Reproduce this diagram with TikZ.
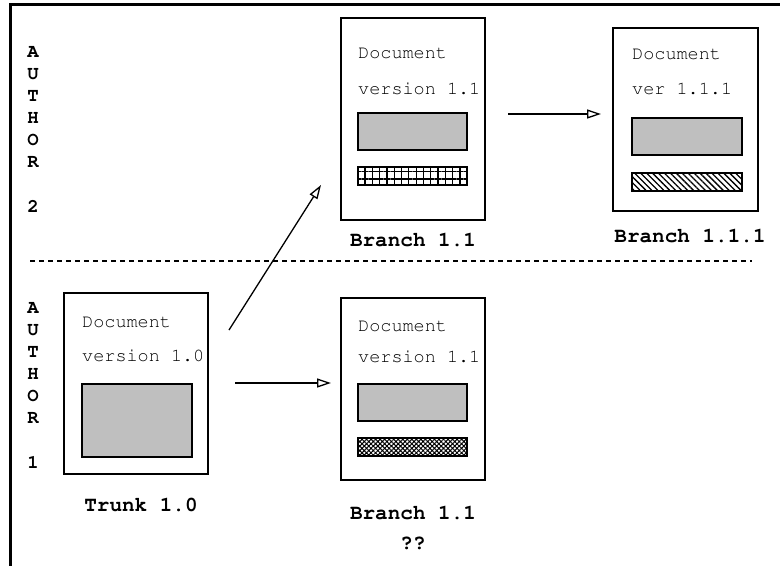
\documentclass[tikz,border=0pt]{standalone}
\usepackage[T1]{fontenc}
\usepackage{courier}
\usetikzlibrary{arrows.meta,patterns,patterns.meta}
\begin{document}
\begin{tikzpicture}[x=1pt,y=-1pt,
 doc/.style={draw, line width=1.3pt, inner sep=0, fill=white},
 txt/.style={anchor=base west, font=\ttfamily\fontsize{18.5}{22}\selectfont, inner sep=0},
 lbl/.style={font=\ttfamily\bfseries\fontsize{21}{24}\selectfont, inner sep=0},
 auth/.style={font=\ttfamily\bfseries\fontsize{19}{22}\selectfont, inner sep=0},
 graybox/.style={draw, line width=1.5pt, fill=black!25, inner sep=0},
 patbox/.style={draw, line width=1.5pt, inner sep=0},
 arr/.style={-{Triangle[open, length=14pt, width=9pt, line width=1.3pt]}, line width=1.3pt},
]
\useasboundingbox (0,0) rectangle (780,566);
% frame
\draw[line width=3pt] (780,4) -| (10,566);
% separator
\draw[dash pattern=on 5pt off 4pt, line width=1.3pt] (30,261) -- (752,261);
% author labels
\foreach \c/\i in {A/0,U/1,T/2,H/3,O/4,R/5,2/7}
  \node[auth] (a2-\i) at (33,52+22.1*\i) {\c};
\foreach \c/\i in {A/0,U/1,T/2,H/3,O/4,R/5,1/7}
  \node[auth] (a1-\i) at (33,308+22.1*\i) {\c};

% Trunk 1.0
\node[doc, minimum width=144, minimum height=181] (trunk) at (136,383.5) {};
\node[txt] (t1) at (82,327) {Document};
\node[txt] (t2) at (82,361) {version 1.0};
\node[graybox, minimum width=110, minimum height=73] (tg) at (137,420.5) {};
\node[lbl] (tl) at (141,505) {Trunk 1.0};

% Branch 1.1 (author 1)
\node[doc, minimum width=144, minimum height=182] (b1) at (413,389) {};
\node[txt] (b1t1) at (358,331) {Document};
\node[txt] (b1t2) at (358,362) {version 1.1};
\node[graybox, minimum width=109, minimum height=37] (b1g) at (412.5,402.5) {};
\node[patbox, minimum width=109, minimum height=18, pattern={Hatch[angle=45,distance=3.2pt,line width=1pt]}] (b1p) at (412.5,447) {};
\node[lbl] (b1l) at (413,513) {Branch 1.1};
\node[lbl] (b1q) at (413,543) {??};

% Branch 1.1 (author 2)
\node[doc, minimum width=144, minimum height=202] (b2) at (413,119) {};
\node[txt] (b2t1) at (358,58) {Document};
\node[txt] (b2t2) at (358,94) {version 1.1};
\node[graybox, minimum width=109, minimum height=37] (b2g) at (412.5,131.5) {};
\node[patbox, minimum width=109, minimum height=18, pattern={Hatch[angle=0,distance=7.3pt,line width=1.2pt]}] (b2p) at (412.5,176) {};
\node[lbl] (b2l) at (413,240) {Branch 1.1};

% Branch 1.1.1
\node[doc, minimum width=145, minimum height=183] (b3) at (685.5,119.5) {};
\node[txt] (b3t1) at (632,59) {Document};
\node[txt] (b3t2) at (632,94) {ver 1.1.1};
\node[graybox, minimum width=110, minimum height=37] (b3g) at (687,136.5) {};
\node[patbox, minimum width=110, minimum height=18, pattern={Lines[angle=-45,distance=4.2pt,line width=1.3pt]}] (b3p) at (687,182) {};
\node[lbl] (b3l) at (690,236) {Branch 1.1.1};

% arrows
\coordinate (s1) at (229,330);
\coordinate (e1) at (321,185);
\coordinate (s2) at (235,383);
\coordinate (e2) at (331,383);
\coordinate (s3) at (508,114);
\coordinate (e3) at (601,114);
\draw[arr] (s1) -- (e1);
\draw[arr] (s2) -- (e2);
\draw[arr] (s3) -- (e3);
\end{tikzpicture}
\end{document}
